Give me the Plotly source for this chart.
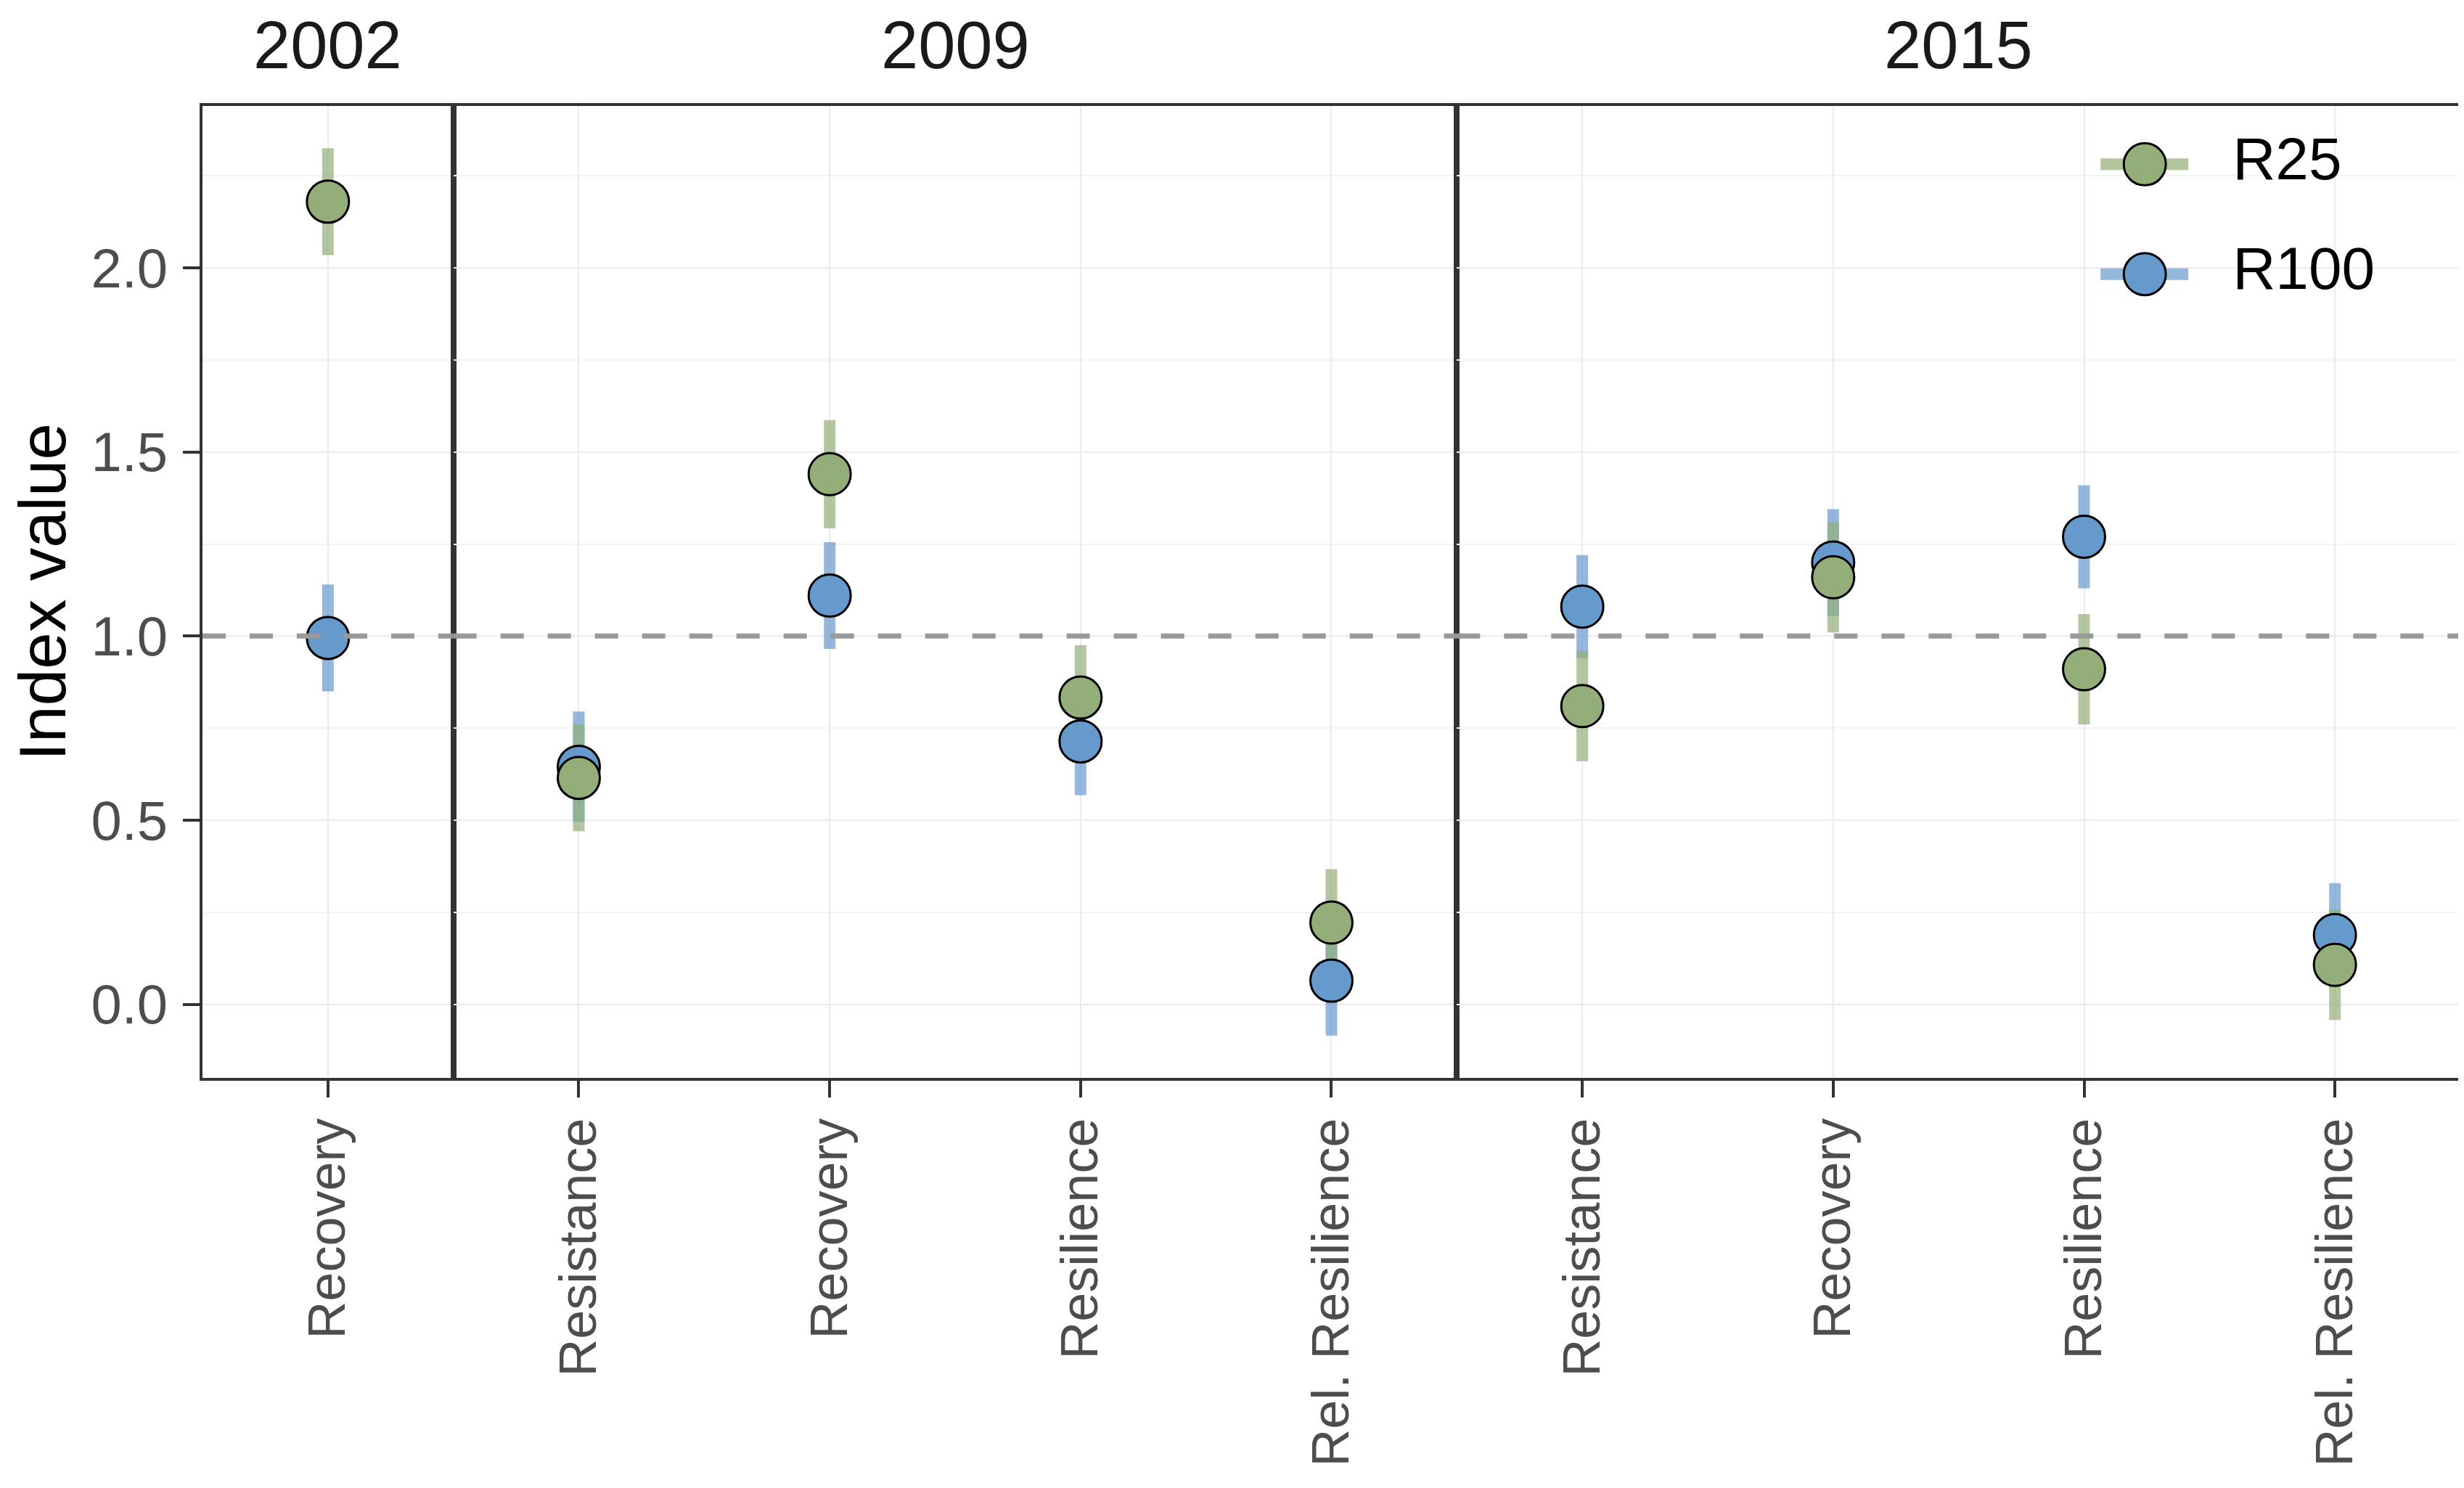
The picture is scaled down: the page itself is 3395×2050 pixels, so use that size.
import plotly.graph_objects as go
from plotly.subplots import make_subplots

# facet years and the indices shown in each panel
years = ["2002", "2009", "2015"]
panel_indices = [
    ["Recovery"],
    ["Resistance", "Recovery", "Resilience", "Rel. Resilience"],
    ["Resistance", "Recovery", "Resilience", "Rel. Resilience"],
]

# index values per panel
r25 = [
    [2.18],
    [0.615, 1.44, 0.833, 0.222],
    [0.81, 1.16, 0.91, 0.107],
]
r25_err = [
    [0.145],
    [0.145, 0.147, 0.142, 0.145],
    [0.15, 0.15, 0.15, 0.15],
]
r100 = [
    [0.995],
    [0.645, 1.11, 0.714, 0.064],
    [1.08, 1.20, 1.27, 0.188],
]
r100_err = [
    [0.145],
    [0.15, 0.145, 0.146, 0.149],
    [0.14, 0.145, 0.14, 0.141],
]

legend_labels = ["R25", "R100"]

series = {
    "R100": (r100, r100_err, "#6699CC", "rgba(102,153,204,0.7)"),
    "R25": (r25, r25_err, "#93AE78", "rgba(147,174,120,0.7)"),
}
draw_order = ["R100", "R25"]

W, H = 3395, 2050
FONT = "Liberation Sans, Arial, sans-serif"

fig = make_subplots(
    rows=1,
    cols=3,
    shared_yaxes=True,
    horizontal_spacing=0,
    column_widths=[len(c) for c in panel_indices],
)

# error bars first so every point sits on top of them
for name in draw_order:
    vals, errs, col, errcol = series[name]
    for i, cats in enumerate(panel_indices):
        fig.add_trace(
            go.Scatter(
                x=cats,
                y=vals[i],
                mode="markers",
                marker=dict(size=1, color="rgba(0,0,0,0)"),
                error_y=dict(
                    type="data",
                    array=errs[i],
                    visible=True,
                    color=errcol,
                    thickness=16,
                    width=0,
                ),
                showlegend=False,
                hoverinfo="skip",
            ),
            row=1,
            col=i + 1,
        )

for name in draw_order:
    vals, errs, col, errcol = series[name]
    for i, cats in enumerate(panel_indices):
        fig.add_trace(
            go.Scatter(
                x=cats,
                y=vals[i],
                mode="markers",
                name=name,
                marker=dict(size=58, color=col, line=dict(color="black", width=3)),
                showlegend=False,
            ),
            row=1,
            col=i + 1,
        )

for i, cats in enumerate(panel_indices):
    fig.update_xaxes(
        type="category",
        categoryorder="array",
        categoryarray=cats,
        range=[-0.5, len(cats) - 0.5],
        showline=True,
        mirror=True,
        linecolor="#333333",
        linewidth=3.5,
        ticks="outside",
        ticklen=23,
        tickwidth=4,
        tickcolor="#333333",
        tickangle=-90,
        ticklabelstandoff=0,
        tickfont=dict(family=FONT, size=72, color="#4D4D4D"),
        showgrid=True,
        gridcolor="#EBEBEB",
        gridwidth=2,
        zeroline=False,
        row=1,
        col=i + 1,
    )
    fig.update_yaxes(
        range=[-0.2, 2.44],
        tickvals=[0, 0.5, 1.0, 1.5, 2.0],
        ticktext=["0.0", "0.5", "1.0", "1.5", "2.0"],
        showline=True,
        mirror=True,
        linecolor="#333333",
        linewidth=3.5,
        showgrid=True,
        gridcolor="#EBEBEB",
        gridwidth=2,
        minor=dict(dtick=0.25, showgrid=True, gridcolor="#F3F3F3", gridwidth=1.5),
        zeroline=False,
        row=1,
        col=i + 1,
    )
    fig.add_hline(
        y=1.0,
        line=dict(color="#999999", width=7, dash="32px,33px"),
        row=1,
        col=i + 1,
    )

fig.update_yaxes(
    ticks="outside",
    ticklen=23,
    tickwidth=4,
    tickcolor="#333333",
    ticklabelstandoff=6,
    tickfont=dict(family=FONT, size=76, color="#4D4D4D"),
    title=dict(text="Index value", font=dict(family=FONT, size=91, color="black"), standoff=36),
    row=1,
    col=1,
)

# facet strip labels
for i, yr in enumerate(years):
    xa = fig.layout["xaxis" if i == 0 else f"xaxis{i + 1}"]
    fig.add_annotation(
        x=(xa.domain[0] + xa.domain[1]) / 2,
        y=1,
        xref="paper",
        yref="paper",
        text=yr,
        showarrow=False,
        xanchor="center",
        yanchor="middle",
        yshift=84,
        font=dict(family=FONT, size=92, color="#1A1A1A"),
    )

# legend drawn on a small hidden inset axis so the keys keep the plot's sizes
for row, name in enumerate(legend_labels):
    vals, errs, col, errcol = series[name]
    fig.add_trace(
        go.Scatter(
            x=[30, 151],
            y=[row, row],
            mode="lines",
            line=dict(color=errcol, width=16),
            xaxis="x4",
            yaxis="y4",
            showlegend=False,
            hoverinfo="skip",
        )
    )
    fig.add_trace(
        go.Scatter(
            x=[91],
            y=[row],
            mode="markers",
            marker=dict(size=58, color=col, line=dict(color="black", width=3)),
            xaxis="x4",
            yaxis="y4",
            showlegend=False,
            hoverinfo="skip",
        )
    )
    fig.add_trace(
        go.Scatter(
            x=[212],
            y=[row],
            mode="text",
            text=[name],
            textposition="middle right",
            textfont=dict(family=FONT, size=82, color="black"),
            xaxis="x4",
            yaxis="y4",
            showlegend=False,
            hoverinfo="skip",
        )
    )

fig.update_layout(
    width=W,
    height=H,
    margin=dict(l=271, r=9, t=138, b=573),
    plot_bgcolor="rgba(0,0,0,0)",
    paper_bgcolor="white",
    font=dict(family=FONT),
    showlegend=False,
    xaxis4=dict(
        domain=[0.831, 1.0],
        range=[0, 526],
        anchor="y4",
        visible=False,
        fixedrange=True,
    ),
    yaxis4=dict(
        domain=[0.7705, 0.9965],
        range=[1.5, -0.5],
        anchor="x4",
        visible=False,
        fixedrange=True,
    ),
)

fig.write_html("out.html")
